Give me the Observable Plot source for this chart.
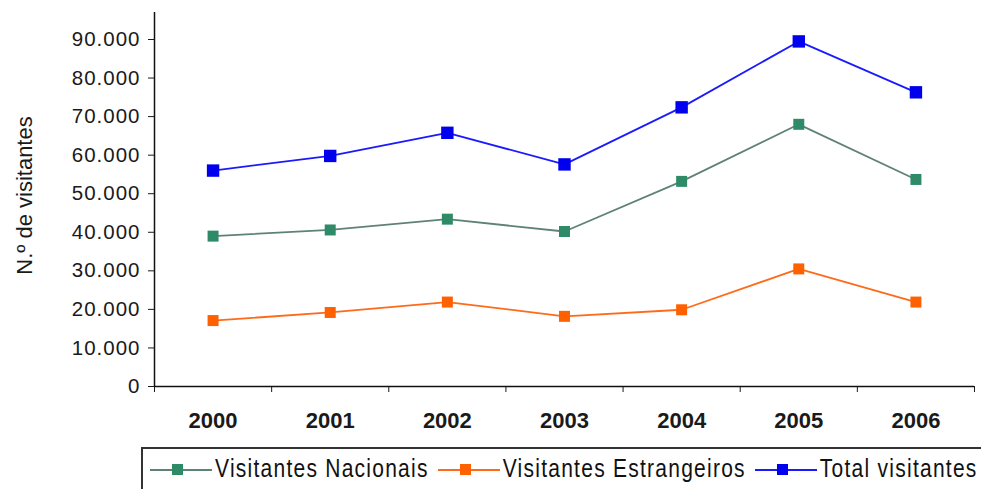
<!DOCTYPE html>
<html>
<head>
<meta charset="utf-8">
<script src="https://cdn.jsdelivr.net/npm/d3@7"></script>
<script src="https://cdn.jsdelivr.net/npm/@observablehq/plot@0.6"></script>
<style>
  html, body { margin: 0; padding: 0; background: #fff; }
  #wrap { position: relative; width: 981px; height: 489px; overflow: hidden; font-family: "Liberation Sans", Arial, sans-serif; }
  #wrap svg g[aria-label="y-axis tick label"] text { letter-spacing: 1px; }
  #legend {
    position: absolute; left: 141px; top: 447px; width: 900px; height: 60px;
    border: 2px solid #333; box-sizing: border-box;
    display: flex; align-items: flex-start; padding-top: 8px; padding-left: 7px;
    font-size: 21px; letter-spacing: 1.25px; color: #111; white-space: nowrap;
  }
  .item { display: flex; align-items: center; margin-right: 9px; }
  .item svg { margin-right: 3px; }
  .item span { display: inline-block; transform: scaleY(1.2); }
</style>
</head>
<body>
<div id="wrap"></div>
<script>
// Visitors per year
const years = [2000, 2001, 2002, 2003, 2004, 2005, 2006];
const nacionais = [39000, 40600, 43400, 40200, 53200, 68000, 53700];
const estrangeiros = [17100, 19200, 21900, 18200, 19900, 30500, 21900];
const total = [56000, 59800, 65800, 57600, 72400, 89500, 76300];
const yTicks = [0, 10000, 20000, 30000, 40000, 50000, 60000, 70000, 80000, 90000];

const seriesNames = ["Visitantes Nacionais", "Visitantes Estrangeiros", "Total visitantes"];
const lineColors = ["#5f8276", "#ff6a1a", "#1a1aff"];
const markerColors = ["#2f8a68", "#ff6000", "#0000ee"];
const markerR = [6.2, 6.2, 7];

const seriesValues = [nacionais, estrangeiros, total];
const rows = seriesValues.map(vals => years.map((year, i) => ({year, value: vals[i]})));

// category boundaries for the tick marks on the x axis
const edges = d3.range(years.length + 1).map(i => years[0] - 0.5 + i);

const fmt = d => d3.format(",")(d).replace(/,/g, ".");

const chart = Plot.plot({
  width: 981,
  height: 446,
  marginLeft: 154,
  marginRight: 7,
  marginTop: 12,
  marginBottom: 60,
  style: {fontFamily: "Liberation Sans, Arial, sans-serif", fontSize: "20px", color: "#1a1a1a", background: "#fff"},
  x: {domain: [edges[0], edges[edges.length - 1]]},
  y: {domain: [0, 97000]},
  marks: [
    Plot.axisY({ticks: yTicks, tickSize: 6, tickPadding: 8, tickFormat: fmt, label: null, fontSize: 20.5}),
    Plot.axisX({ticks: edges, tickSize: 6, tickFormat: () => "", label: null}),
    Plot.axisX({ticks: years, tickSize: 0, tickPadding: 26, tickFormat: d => String(d), fontWeight: "bold", fontSize: 22, label: null}),
    Plot.ruleX([edges[0]], {stroke: "#111", strokeWidth: 1.5}),
    Plot.ruleY([0], {stroke: "#111", strokeWidth: 1.5}),
    Plot.text(["N.º de visitantes"], {frameAnchor: "left", dx: -130, dy: -4, rotate: -90, textAnchor: "middle", fontSize: 22, fill: "#1a1a1a"}),
    ...rows.map((data, k) => Plot.line(data, {x: "year", y: "value", stroke: lineColors[k], strokeWidth: 1.8})),
    ...rows.map((data, k) => Plot.dot(data, {x: "year", y: "value", symbol: "square", r: markerR[k], fill: markerColors[k], stroke: "none"}))
  ]
});

const wrap = document.getElementById("wrap");
wrap.appendChild(chart);

// legend below the chart
const legend = document.createElement("div");
legend.id = "legend";
seriesNames.forEach((name, k) => {
  const item = document.createElement("div");
  item.className = "item";
  item.innerHTML =
    `<svg width="62" height="16"><line x1="0" y1="9" x2="62" y2="9" stroke="${lineColors[k]}" stroke-width="1.8"/>` +
    `<rect x="22" y="3" width="11" height="11" fill="${markerColors[k]}"/></svg><span>${name}</span>`;
  legend.appendChild(item);
});
wrap.appendChild(legend);
</script>
</body>
</html>
